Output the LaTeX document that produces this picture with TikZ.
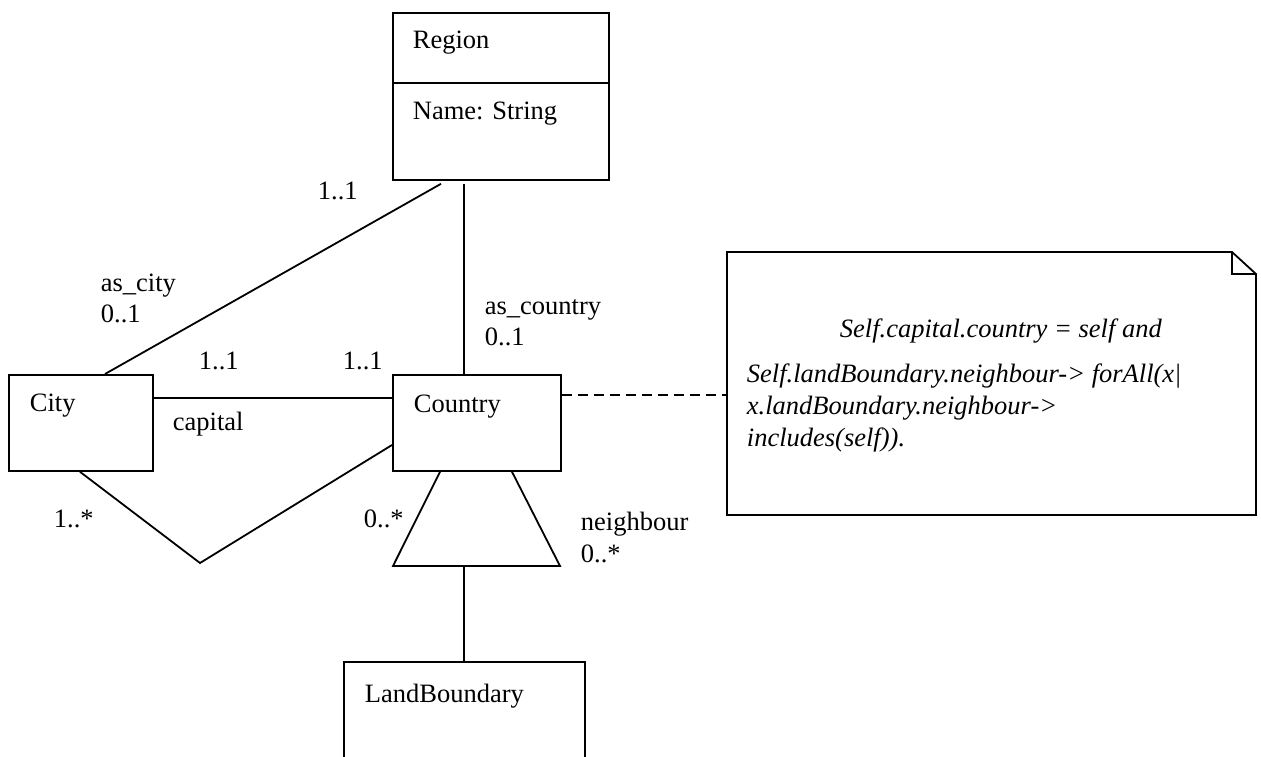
\documentclass[tikz,border=0pt]{standalone}
\usepackage{fontspec}
\setmainfont{Liberation Serif}
\usetikzlibrary{calc}
\begin{document}
\begin{tikzpicture}[x=1pt,y=-1pt,
  line width=1.8pt,
  box/.style={draw, line width=1.8pt, anchor=north west, inner sep=0pt},
  lbl/.style={anchor=base west, inner sep=0pt, font=\fontsize{26.5}{30}\selectfont},
  conn/.style={line width=1.8pt},
  note line/.style={dash pattern=on 10pt off 6pt, line width=1.8pt}]
\useasboundingbox (0,0) rectangle (1261,756);

% class boxes
\node[box, minimum width=216pt, minimum height=167pt] (region) at (392,12) {};
\draw[conn] ($(region.north west)+(0,71)$) -- ($(region.north east)+(0,71)$);
\node[box, minimum width=144pt, minimum height=96pt] (city) at (8,374) {};
\node[box, minimum width=168pt, minimum height=96pt] (country) at (392,374) {};
\node[anchor=north west, inner sep=0pt, minimum width=239pt, minimum height=94pt] (land) at (344,662) {};
\draw[conn] (land.south west) -- (land.north west) -- (land.north east) -- (land.south east);

% class names
\node[lbl] (tregion) at (412,48) {Region};
\node[lbl] (tname) at (412,119) {Name: String};
\node[lbl] (tcity) at (29,411) {City};
\node[lbl] (tcountry) at (413,412) {Country};
\node[lbl] (tland) at (364,702) {LandBoundary};

% associations
\draw[conn] ($(region.south west)+(49,3)$) -- ($(city.north west)+(97,0)$);
\draw[conn] ($(region.south west)+(72,3)$) -- ($(country.north west)+(72,0)$);
\draw[conn] ($(city.north east)+(0,24)$) -- ($(country.north west)+(0,24)$);
\coordinate (vbot) at (200,563);
\draw[conn] ($(city.south west)+(72,0)$) -- (vbot) -- ($(country.north west)+(0,71)$);

% trapezoid (neighbour association)
\coordinate (tbl) at (393,566);
\coordinate (tbr) at (560,566);
\coordinate (tbm) at (464,566);
\draw[conn] ($(country.south west)+(48,0)$) -- (tbl) -- (tbr) -- ($(country.south west)+(120,0)$);
\draw[conn] (tbm) -- (tbm |- land.north);

% multiplicities and roles
\node[lbl] (m1) at (317,199) {1..1};
\node[lbl] (m2) at (100,291) {as\_city};
\node[lbl] (m3) at (100,322) {0..1};
\node[lbl] (m4) at (198,369) {1..1};
\node[lbl] (m5) at (342,369) {1..1};
\node[lbl] (m6) at (172,430) {capital};
\node[lbl] (m7) at (484,314) {as\_country};
\node[lbl] (m8) at (484,345) {0..1};
\node[lbl] (m9) at (53,527) {1..*};
\node[lbl] (m10) at (363,527) {0..*};
\node[lbl] (m11) at (580,530) {neighbour};
\node[lbl] (m12) at (580,562) {0..*};

% note
\coordinate (ntl) at (727,252);
\coordinate (nf1) at (1232,252);
\coordinate (nf2) at (1256,274);
\coordinate (nf3) at (1232,274);
\coordinate (nbr) at (1256,515);
\coordinate (nbl) at (727,515);
\coordinate (nl) at (727,395);
\draw[conn] (ntl) -- (nf1) -- (nf2) -- (nbr) -- (nbl) -- cycle;
\draw[conn] (nf1) -- (nf3) -- (nf2);
\node[anchor=north west, inner sep=0pt, align=left,
      font=\fontsize{26.5}{32}\selectfont\itshape] (notetext) at (746,318)
  {\hspace*{93pt}Self.capital.country = self and\\[13pt]
   Self.landBoundary.neighbour-> forAll(x|\\
   x.landBoundary.neighbour->\\
   includes(self)).};
\draw[note line] ($(country.north east)+(0,21)$) -- (nl);
\end{tikzpicture}
\end{document}
